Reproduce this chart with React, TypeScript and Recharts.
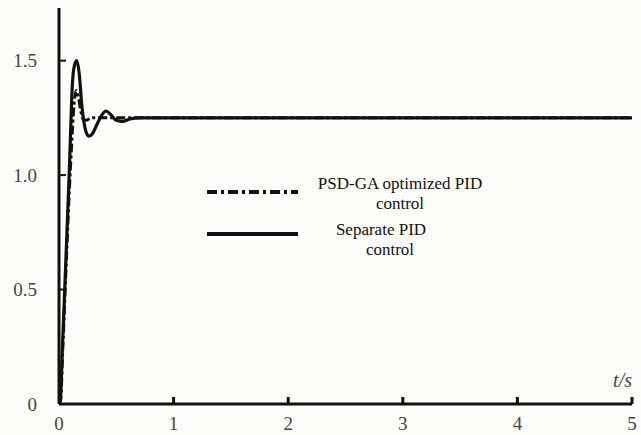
import React from 'react';
import { LineChart, Line, XAxis, YAxis } from 'recharts';

// Time stamps (s) and responses for each curve
const separateT = [0, 0.012, 0.03, 0.05, 0.07, 0.09, 0.1, 0.115, 0.135, 0.155, 0.175, 0.2, 0.23, 0.26, 0.29, 0.33, 0.37, 0.41, 0.45, 0.5, 0.56, 0.62, 0.7, 1, 2, 3, 4, 5];
const separateV = [0, 0.02, 0.25, 0.5, 0.76, 1.02, 1.17, 1.38, 1.48, 1.5, 1.45, 1.3, 1.2, 1.17, 1.18, 1.22, 1.26, 1.28, 1.265, 1.24, 1.235, 1.245, 1.25, 1.25, 1.25, 1.25, 1.25, 1.25];

const psdT = [0, 0.015, 0.03, 0.05, 0.07, 0.09, 0.11, 0.13, 0.15, 0.17, 0.19, 0.21, 0.24, 0.28, 0.35, 0.5, 1, 2, 3, 4, 5];
const psdV = [0, 0.02, 0.2, 0.45, 0.7, 0.93, 1.13, 1.3, 1.37, 1.34, 1.28, 1.245, 1.24, 1.25, 1.25, 1.25, 1.25, 1.25, 1.25, 1.25, 1.25];

const xTicks = [0, 1, 2, 3, 4, 5];
const yTicks = [0, 0.5, 1.0, 1.5];
const xLabel = 't/s';
const seriesNames = [
  ['PSD-GA optimized PID', 'control'],
  ['Separate PID', 'control'],
];

const separateData = separateT.map((t, i) => ({ t, v: separateV[i] }));
const psdData = psdT.map((t, i) => ({ t, v: psdV[i] }));

const FONT = 'Liberation Serif';
const INK = '#111';
const Y_MARGIN = 22;
const X_MARGIN = 19;

const YTick = (props: any) => {
  const { x, y, payload } = props;
  const ax = x + Y_MARGIN;
  const v = payload.value;
  return (
    <g>
      <line x1={ax} x2={ax + 7} y1={y} y2={y} stroke={INK} strokeWidth={2} />
      <text x={x} y={y} dy="0.35em" textAnchor="end" fontFamily={FONT} fontSize={19} fill="#444">
        {v === 0 ? '0' : v.toFixed(1)}
      </text>
    </g>
  );
};

const XTick = (props: any) => {
  const { x, y, payload } = props;
  const ay = y - X_MARGIN;
  return (
    <g>
      {payload.value !== 0 && (
        <line x1={x} x2={x} y1={ay} y2={ay - 7} stroke={INK} strokeWidth={3} />
      )}
      <text x={x} y={y} dy="0.35em" textAnchor="middle" fontFamily={FONT} fontSize={19} fill="#444">
        {payload.value}
      </text>
    </g>
  );
};

const LegendBlock = () => (
  <g fill={INK}>
    <line x1={207} x2={298} y1={192} y2={192} stroke={INK} strokeWidth={4} strokeDasharray="10 4 3 4" />
    <text x={400} y={183} dy="0.35em" textAnchor="middle" fontFamily={FONT} fontSize={17}>{seriesNames[0][0]}</text>
    <text x={400} y={203} dy="0.35em" textAnchor="middle" fontFamily={FONT} fontSize={17}>{seriesNames[0][1]}</text>
    <line x1={207} x2={298} y1={234} y2={234} stroke={INK} strokeWidth={4} />
    <text x={381} y={229} dy="0.35em" textAnchor="middle" fontFamily={FONT} fontSize={17}>{seriesNames[1][0]}</text>
    <text x={390} y={249} dy="0.35em" textAnchor="middle" fontFamily={FONT} fontSize={17}>{seriesNames[1][1]}</text>
  </g>
);

const TsLabel = (props: any) => {
  const vb = props.viewBox || {};
  return (
    <text
      x={(vb.x || 0) + (vb.width || 0)}
      y={(vb.y || 0) - 17}
      textAnchor="end"
      fontFamily={FONT}
      fontStyle="italic"
      fontSize={20}
      fill="#444"
    >
      {xLabel}
    </text>
  );
};

export default function App() {
  return (
    <div style={{ position: 'absolute', left: 0, top: 0, width: 641, height: 435, background: '#fdfdf9', fontFamily: FONT }}>
      <LineChart width={641} height={435} margin={{ top: 8, right: 9, bottom: 0, left: 0 }} style={{ fontFamily: FONT }}>
        <XAxis
          type="number"
          dataKey="t"
          domain={[0, 5]}
          ticks={xTicks}
          height={31}
          tickSize={0}
          tickMargin={X_MARGIN}
          tick={<XTick />}
          axisLine={{ stroke: INK, strokeWidth: 3 }}
          tickLine={false}
          allowDataOverflow
          label={<TsLabel />}
        />
        <YAxis
          type="number"
          domain={[0, 1.73]}
          ticks={yTicks}
          width={59}
          tickSize={0}
          tickMargin={Y_MARGIN}
          tick={<YTick />}
          axisLine={{ stroke: INK, strokeWidth: 3 }}
          tickLine={false}
          allowDataOverflow
        />
        <Line
          data={psdData}
          dataKey="v"
          type="monotone"
          stroke={INK}
          strokeWidth={3}
          strokeDasharray="9 3 3 3"
          dot={false}
          isAnimationActive={false}
        />
        <Line
          data={separateData}
          dataKey="v"
          type="monotone"
          stroke={INK}
          strokeWidth={3.2}
          dot={false}
          isAnimationActive={false}
        />
        <LegendBlock />
      </LineChart>
    </div>
  );
}
